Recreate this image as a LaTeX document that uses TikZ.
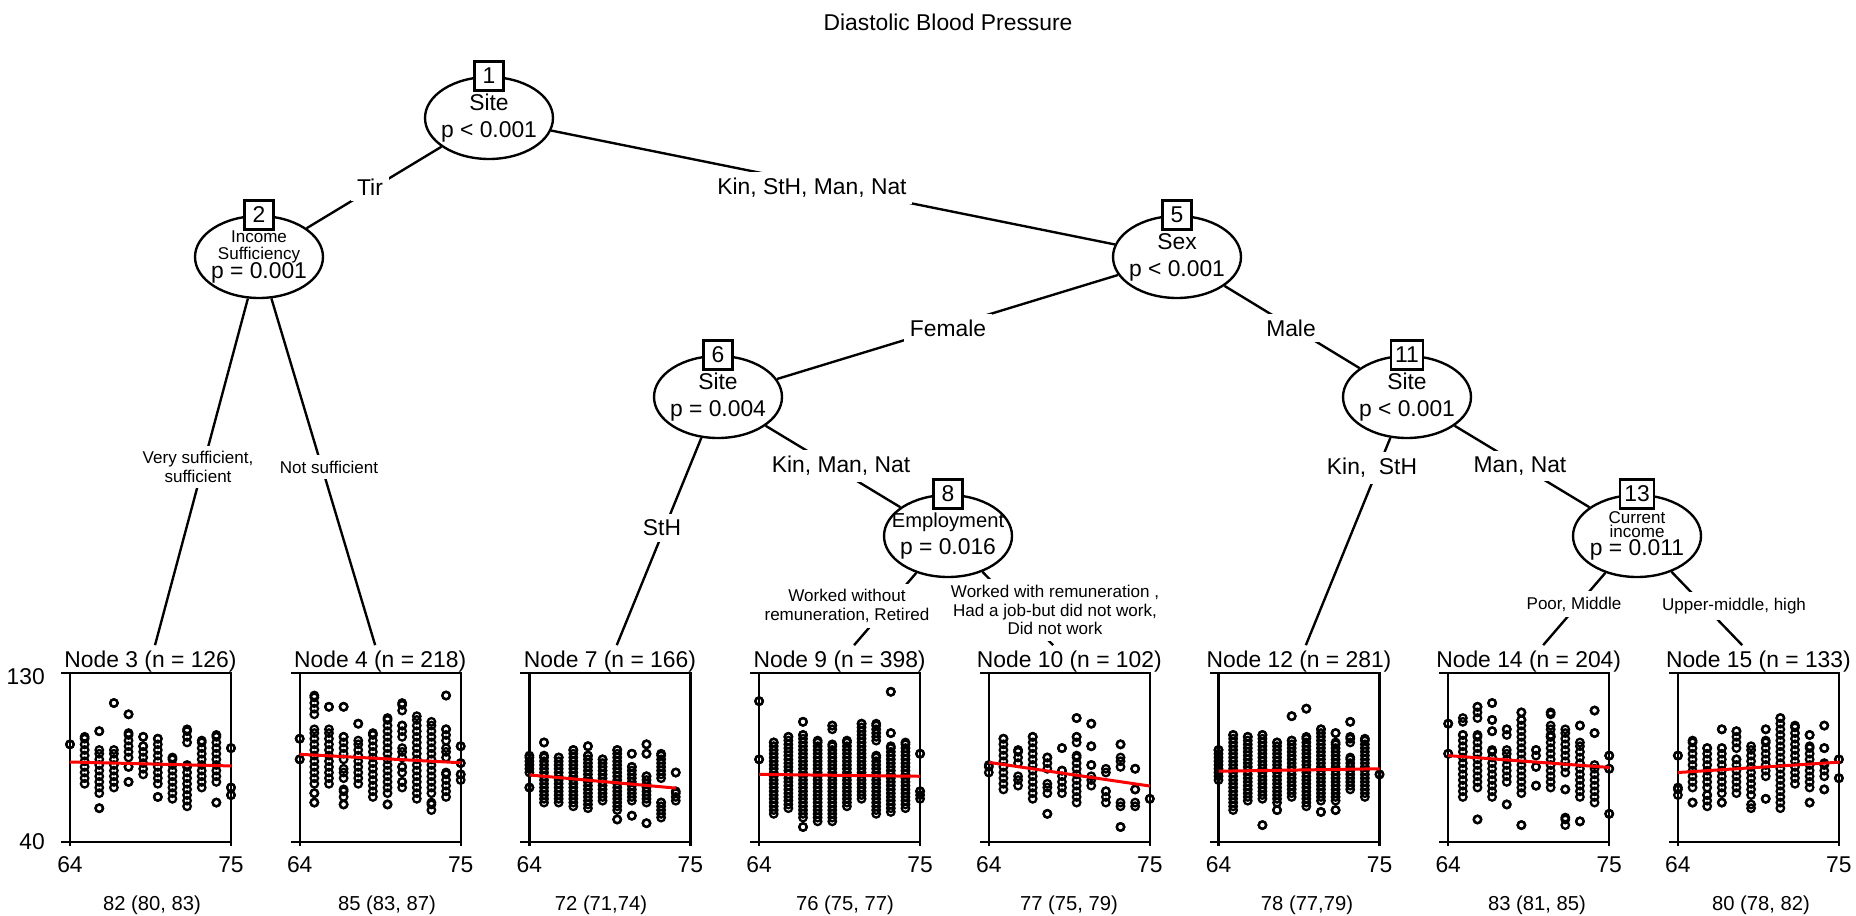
\documentclass[tikz,border=0pt]{standalone}
\usepackage{fontspec}
\setmainfont{Liberation Sans}
\usetikzlibrary{shapes.geometric}
\newcommand\smalltxt{\fontsize{9.7}{10.5}\selectfont}

\begin{document}
\begin{tikzpicture}[x=0.02cm, y=-0.02cm,
    bigf/.style={font=\fontsize{13}{15.3}\selectfont},
    smallf/.style={font=\fontsize{9.7}{10.5}\selectfont},
    inner/.style={ellipse, draw, fill=white, line width=1.35pt, minimum width=2.56cm,
      minimum height=1.64cm, inner xsep=-0.25cm, inner ysep=-0.1cm, align=center, bigf},
    idbox/.style={draw, fill=white, line width=1.35pt, minimum width=0.58cm,
      minimum height=0.58cm, inner xsep=2.5pt, inner ysep=0pt, bigf},
    conn/.style={line width=1.35pt},
    elab/.style={fill=white, align=center, bigf},
    slab/.style={fill=white, align=center, smallf},
    tlab/.style={bigf},
    axl/.style={bigf},
    med/.style={font=\fontsize{11.5}{13}\selectfont},
    pframe/.style={line width=1.35pt},
    obs/.style={line width=1.3pt},
    redfit/.style={red, line width=1.7pt}]
  \useasboundingbox (0,0) rectangle (1856,916);

  \node[bigf] (title) at (948,22) {Diastolic Blood Pressure};

  % terminal panels
  \foreach \pk/\id/\nn/\mx/\md in {0/3/126/152/{82 (80, 83)}, 1/4/218/387/{85 (83, 87)},
      2/7/166/601/{72 (71,74)}, 3/9/398/845/{76 (75, 77)}, 4/10/102/1069/{77 (75, 79)},
      5/12/281/1307/{78 (77,79)}, 6/14/204/1537/{83 (81, 85)}, 7/15/133/1761/{80 (78, 82)}} {
    \pgfmathsetmacro\px{70+229.7*\pk}
    \draw[pframe] ({\px-9},673) -- ({\px+161},673) -- ({\px+161},846);
    \draw[pframe] ({\px-9},842) -- ({\px+161},842);
    \draw[pframe] (\px,673) -- (\px,846);
    \node[tlab] (t\id) at ({\px+80.5},662) {Node \id\ (n = \nn)};
    \node[axl] (lo\id) at (\px,865) {64};
    \node[axl] (hi\id) at ({\px+161},865) {75};
    \node[med] (m\id) at (\mx,905) {\md};
  }
  \node[axl, anchor=east] (y130) at (51,677) {130};
  \node[axl, anchor=east] (y40) at (51,842) {40};

  % observations: panel/age/low/high
  \foreach \pk/\ag/\lo/\hi in {
      0/64/92/92, 0/65/71/96, 0/66/99/99, 0/66/66/89, 0/66/58/58, 0/67/114/114, 0/67/69/89,
      0/68/108/108, 0/68/85/98, 0/68/80/80, 0/68/72/72, 0/69/96/96, 0/69/76/91, 0/70/71/95,
      0/70/64/64, 0/71/63/85, 0/72/93/100, 0/72/59/81, 0/73/69/94, 0/74/72/97, 0/74/61/61,
      0/75/90/90, 0/75/69/69, 0/75/65/65,
      1/64/95/95, 1/64/84/84, 1/65/108/118, 1/65/71/100, 1/65/66/66, 1/65/61/61, 1/66/112/112,
      1/66/71/100, 1/67/112/112, 1/67/84/96, 1/67/74/79, 1/67/64/68, 1/67/60/60, 1/68/103/103,
      1/68/71/94, 1/69/64/98, 1/70/66/106, 1/70/60/60, 1/71/110/114, 1/71/96/102, 1/71/85/90,
      1/71/77/80, 1/71/69/72, 1/72/63/107, 1/73/66/104, 1/73/57/61, 1/74/118/118, 1/74/94/100,
      1/74/85/90, 1/74/64/77, 1/75/91/91, 1/75/82/82, 1/75/73/76,
      2/64/77/86, 2/64/69/69, 2/65/93/93, 2/65/61/86, 2/66/61/85, 2/67/59/89, 2/68/91/91,
      2/68/58/86, 2/69/62/84, 2/70/57/89, 2/70/52/52, 2/71/87/87, 2/71/62/80, 2/71/54/54,
      2/72/92/92, 2/72/87/87, 2/72/61/75, 2/72/50/50, 2/73/74/87, 2/73/53/61, 2/74/77/77,
      2/74/62/67,
      3/64/115/115, 3/64/84/84, 3/65/55/93, 3/66/58/96, 3/67/104/104, 3/67/53/97, 3/67/48/48,
      3/68/51/94, 3/69/100/102, 3/69/51/92, 3/70/59/94, 3/71/63/103, 3/72/94/103, 3/72/55/86,
      3/73/120/120, 3/73/98/98, 3/73/56/91, 3/74/58/93, 3/75/87/87, 3/75/63/67,
      4/64/77/81, 4/65/68/95, 4/66/82/89, 4/66/70/75, 4/67/63/96, 4/68/79/85, 4/68/66/71,
      4/68/55/55, 4/69/90/90, 4/69/66/78, 4/70/106/106, 4/70/93/96, 4/70/61/86, 4/71/103/103,
      4/71/91/91, 4/71/81/81, 4/71/70/75, 4/72/77/79, 4/72/61/67, 4/73/92/92, 4/73/80/85,
      4/73/59/61, 4/73/48/48, 4/74/79/79, 4/74/68/68, 4/74/59/61, 4/75/63/63,
      5/64/73/89, 5/65/57/97, 5/66/62/96, 5/67/63/97, 5/67/49/49, 5/68/61/93, 5/68/57/57,
      5/69/107/107, 5/69/64/94, 5/70/111/111, 5/70/59/96, 5/71/62/100, 5/71/56/56, 5/72/98/98,
      5/72/62/93, 5/72/57/57, 5/73/104/104, 5/73/93/96, 5/73/68/85, 5/74/64/95, 5/75/76/76,
      6/64/103/103, 6/64/87/87, 6/65/104/106, 6/65/64/97, 6/66/106/112, 6/66/69/97, 6/66/52/52,
      6/67/114/114, 6/67/105/105, 6/67/99/99, 6/67/64/89, 6/68/97/100, 6/68/72/89, 6/68/60/60,
      6/69/109/109, 6/69/66/105, 6/69/49/49, 6/70/86/89, 6/70/80/80, 6/70/70/70, 6/71/108/109,
      6/71/97/102, 6/71/69/96, 6/72/77/100, 6/72/68/68, 6/72/49/53, 6/73/102/102, 6/73/64/93,
      6/73/51/51, 6/74/110/110, 6/74/98/98, 6/74/61/81, 6/75/86/86, 6/75/79/79, 6/75/55/55,
      7/64/86/86, 7/64/65/69, 7/65/69/94, 7/65/61/61, 7/66/69/90, 7/66/59/65, 7/67/100/100,
      7/67/66/90, 7/67/61/61, 7/68/90/99, 7/68/66/84, 7/69/65/91, 7/69/58/60, 7/70/100/100,
      7/70/75/94, 7/70/63/63, 7/71/58/106, 7/72/71/102, 7/73/97/97, 7/73/69/91, 7/73/61/61,
      7/74/102/102, 7/74/90/90, 7/74/75/82, 7/74/68/68, 7/75/84/84, 7/75/74/74} {
    \pgfmathsetmacro\px{70+229.7*\pk}
    \pgfmathsetmacro\stp{{3,3,2,2,3,2,3,3}[\pk]}
    \pgfmathtruncatemacro\nc{(\hi-\lo)/\stp}
    \foreach \v in {0,...,\nc}
      \draw[obs] ({\px+(\ag-64)*14.636},{842-(\lo+\v*\stp-40)*1.878}) circle[radius=0.075cm];
    \draw[obs] ({\px+(\ag-64)*14.636},{842-(\hi-40)*1.878}) circle[radius=0.075cm];
  }

  % fitted lines
  \foreach \pk/\e/\ya/\yb in {0/75/82.6/80.5, 1/75/86.7/82.2, 2/74/75.7/68.7, 3/75/76/75,
      4/75/82.4/69.8, 5/75/77.7/79, 6/75/86/79.7, 7/75/77/82.5} {
    \pgfmathsetmacro\px{70+229.7*\pk}
    \draw[redfit] (\px,{842-(\ya-40)*1.878}) -- ({\px+(\e-64)*14.636},{842-(\yb-40)*1.878});
  }

  % inner nodes
  \node[inner] (n1) at (489,118) {Site\\p < 0.001};
  \node[inner] (n2) at (259,257) {{\smalltxt Income}\\[-6pt]{\smalltxt Sufficiency}\\[-4.5pt]p = 0.001};
  \node[inner] (n5) at (1177,257) {Sex\\p < 0.001};
  \node[inner] (n6) at (718,397) {Site\\p = 0.004};
  \node[inner] (n8) at (948,536) {{\fontsize{11.5}{15.3}\selectfont Employment}\\p = 0.016};
  \node[inner] (n11) at (1407,397) {Site\\p < 0.001};
  \node[inner] (n13) at (1637,536) {{\smalltxt Current}\\[-7pt]{\smalltxt income}\\[-5pt]p = 0.011};

  \node[idbox] (b1) at (n1.north) {1};
  \node[idbox] (b2) at (n2.north) {2};
  \node[idbox] (b5) at (n5.north) {5};
  \node[idbox] (b6) at (n6.north) {6};
  \node[idbox] (b8) at (n8.north) {8};
  \node[idbox] (b11) at (n11.north) {11};
  \node[idbox] (b13) at (n13.north) {13};

  % connectors
  \draw[conn] (n1) -- (n2);
  \draw[conn] (n1) -- (n5);
  \draw[conn] (n2) -- (t3);
  \draw[conn] (n2) -- (t4);
  \draw[conn] (n5) -- (n6);
  \draw[conn] (n5) -- (n11);
  \draw[conn] (n6) -- (t7);
  \draw[conn] (n6) -- (n8);
  \draw[conn] (n8) -- (t9);
  \draw[conn] (n8) -- (t10);
  \draw[conn] (n11) -- (t12);
  \draw[conn] (n11) -- (n13);
  \draw[conn] (n13) -- (t14);
  \draw[conn] (n13) -- (t15);

  % split labels
  \node[elab] (l1) at (370,187) {Tir};
  \node[elab] (l2) at (812,188) {Kin, StH, Man, Nat};
  \node[elab] (l3) at (948,328) {Female};
  \node[elab] (l4) at (1291,328) {Male};
  \node[slab] (l5) at (198,467) {Very sufficient,\\sufficient};
  \node[slab] (l6) at (329,467) {Not sufficient};
  \node[elab] (l7) at (662,528) {StH};
  \node[elab] (l8) at (841,466) {Kin, Man, Nat};
  \node[elab] (l9) at (1372,468) {Kin,~ StH};
  \node[elab] (l10) at (1520,466) {Man, Nat};
  \node[slab] (l11) at (847,606) {Worked without\\remuneration, Retired};
  \node[slab] (l12) at (1055,610) {Worked with remuneration ,\\Had a job-but did not work,\\Did not work};
  \node[slab] (l13) at (1574,604) {Poor, Middle};
  \node[slab] (l14) at (1734,606) {Upper-middle, high};
\end{tikzpicture}
\end{document}
